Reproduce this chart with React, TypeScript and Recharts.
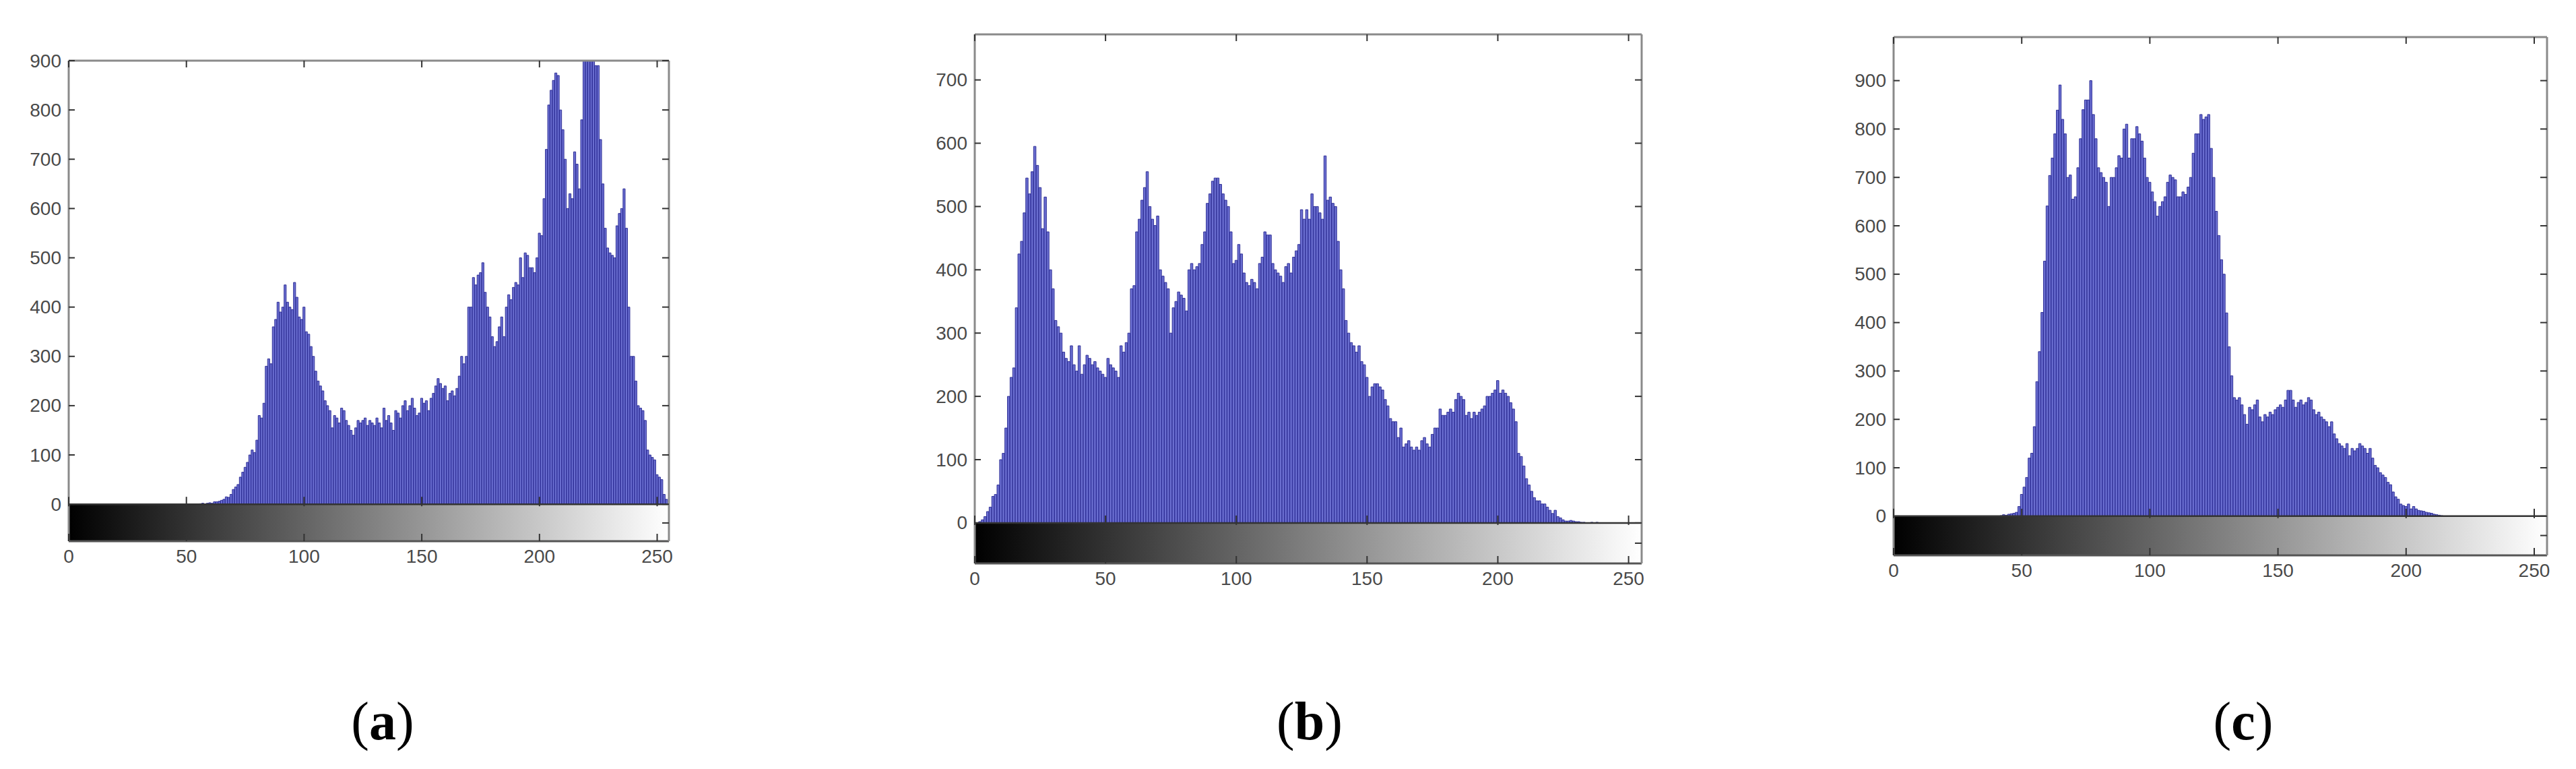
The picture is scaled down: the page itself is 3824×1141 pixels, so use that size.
import React from 'react';
import { BarChart, Bar, XAxis, YAxis, ReferenceLine, ReferenceArea } from 'recharts';

// ---------- data ----------
const grayLevels: number[] = Array.from({ length: 256 }, (_, i) => i);

const histA: number[] = [
  0, 0, 0, 0, 0, 0, 0, 0,
  0, 0, 0, 0, 0, 0, 0, 0,
  0, 0, 0, 0, 0, 0, 0, 0,
  0, 0, 0, 0, 0, 0, 0, 0,
  0, 0, 0, 0, 0, 0, 0, 0,
  0, 0, 0, 0, 0, 0, 0, 0,
  0, 0, 0, 0, 0, 0, 0, 0,
  1, 2, 0, 2, 3, 2, 5, 5,
  6, 8, 10, 15, 14, 20, 30, 35,
  40, 55, 65, 75, 85, 100, 110, 105,
  130, 180, 175, 205, 280, 295, 285, 360,
  375, 410, 390, 400, 445, 410, 400, 395,
  450, 420, 380, 375, 400, 350, 345, 320,
  300, 270, 250, 240, 230, 210, 200, 190,
  155, 180, 175, 165, 195, 190, 170, 160,
  150, 140, 155, 170, 165, 170, 175, 160,
  170, 165, 160, 175, 165, 155, 195, 170,
  180, 165, 150, 190, 185, 175, 200, 210,
  190, 200, 215, 195, 180, 185, 215, 205,
  210, 190, 215, 225, 240, 255, 245, 235,
  240, 210, 225, 230, 220, 235, 260, 300,
  285, 300, 400, 400, 460, 445, 465, 470,
  490, 430, 400, 380, 340, 320, 330, 360,
  380, 340, 400, 425, 415, 440, 450, 445,
  500, 460, 510, 505, 480, 480, 470, 500,
  550, 545, 620, 720, 810, 840, 860, 875,
  870, 800, 760, 700, 600, 630, 620, 715,
  690, 640, 780, 900, 900, 900, 900, 900,
  890, 890, 740, 650, 560, 520, 510, 505,
  500, 565, 590, 600, 640, 560, 400, 300,
  300, 250, 200, 195, 190, 170, 110, 100,
  95, 90, 60, 55, 50, 20, 10, 0,
];

const histB: number[] = [
  0, 0, 2, 5, 10, 18, 25, 42,
  45, 60, 100, 110, 150, 200, 230, 245,
  340, 425, 445, 490, 545, 520, 555, 595,
  565, 530, 465, 515, 460, 400, 370, 320,
  310, 300, 270, 260, 255, 280, 250, 240,
  280, 235, 250, 265, 260, 250, 255, 245,
  240, 235, 230, 260, 250, 245, 240, 230,
  280, 270, 285, 300, 370, 375, 460, 480,
  510, 530, 555, 500, 480, 470, 485, 400,
  390, 380, 370, 300, 340, 350, 365, 360,
  355, 335, 400, 410, 400, 405, 410, 440,
  460, 505, 520, 540, 545, 545, 535, 520,
  510, 500, 460, 410, 415, 440, 425, 395,
  380, 375, 385, 380, 370, 410, 420, 460,
  455, 455, 410, 400, 395, 390, 380, 405,
  410, 395, 420, 430, 440, 495, 480, 495,
  480, 520, 500, 500, 490, 480, 580, 510,
  515, 505, 500, 445, 400, 370, 320, 300,
  285, 280, 270, 280, 255, 250, 230, 200,
  215, 220, 220, 215, 210, 195, 185, 165,
  160, 160, 135, 150, 120, 125, 130, 120,
  115, 120, 115, 130, 135, 125, 120, 140,
  150, 150, 180, 170, 170, 175, 180, 175,
  195, 205, 200, 195, 170, 175, 165, 175,
  170, 175, 180, 185, 200, 200, 205, 210,
  225, 205, 210, 205, 200, 190, 180, 160,
  110, 105, 90, 70, 60, 50, 40, 35,
  35, 30, 30, 25, 20, 15, 20, 10,
  8, 5, 3, 3, 4, 3, 2, 2,
  1, 1, 0, 0, 1, 0, 1, 0,
  0, 0, 0, 0, 0, 0, 0, 0,
  0, 0, 0, 0, 0, 0, 0, 0,
];

const histC: number[] = [
  0, 0, 0, 0, 0, 0, 0, 0,
  0, 0, 0, 0, 0, 0, 0, 0,
  0, 0, 0, 0, 0, 0, 0, 0,
  0, 0, 0, 0, 0, 0, 0, 0,
  0, 0, 0, 0, 0, 0, 0, 0,
  0, 0, 1, 3, 2, 4, 5, 6,
  8, 20, 45, 60, 80, 120, 130, 185,
  278, 340, 421, 527, 641, 704, 740, 790,
  839, 891, 820, 790, 700, 705, 655, 660,
  720, 780, 840, 860, 860, 900, 830, 780,
  720, 710, 700, 690, 640, 700, 700, 720,
  745, 740, 800, 810, 740, 780, 780, 805,
  790, 775, 740, 700, 690, 670, 650, 620,
  640, 650, 660, 690, 705, 700, 695, 660,
  660, 670, 665, 680, 700, 750, 790, 790,
  830, 820, 825, 830, 760, 700, 630, 580,
  530, 500, 420, 350, 290, 245, 240, 245,
  230, 210, 190, 225, 220, 230, 240, 205,
  195, 210, 205, 215, 210, 220, 225, 230,
  225, 240, 260, 260, 240, 225, 235, 240,
  230, 235, 245, 240, 220, 210, 215, 205,
  200, 195, 185, 195, 170, 160, 150, 145,
  140, 150, 125, 140, 135, 140, 150, 145,
  140, 130, 140, 120, 105, 100, 90, 85,
  80, 70, 65, 50, 40, 35, 25, 22,
  20, 25, 15, 20, 15, 12, 11, 10,
  8, 7, 6, 4, 3, 2, 1, 0,
  0, 0, 0, 0, 0, 0, 0, 0,
  0, 0, 0, 0, 0, 0, 0, 0,
  0, 0, 0, 0, 0, 0, 0, 0,
  0, 0, 0, 0, 0, 0, 0, 0,
  0, 0, 0, 0, 0, 0, 0, 0,
];

const xTickValues: number[] = [0, 50, 100, 150, 200, 250];
const topTickValues: number[] = [0, 50, 100, 150, 200, 250];
const yTicksA: number[] = [0, 100, 200, 300, 400, 500, 600, 700, 800, 900];
const yTicksB: number[] = [0, 100, 200, 300, 400, 500, 600, 700];
const yTicksC: number[] = [0, 100, 200, 300, 400, 500, 600, 700, 800, 900];
const rightTicksA: number[] = [-38, 0, 100, 200, 300, 400, 500, 600, 700, 800, 900];
const rightTicksB: number[] = [-32, 0, 100, 200, 300, 400, 500, 600, 700];
const rightTicksC: number[] = [-40, 0, 100, 200, 300, 400, 500, 600, 700, 800, 900];
const captionLetters: string[] = ['a', 'b', 'c'];

// ---------- layout / style ----------
const FONT = "'Liberation Sans Narrow', 'Liberation Sans', Arial, sans-serif";
const LABEL_COLOR = '#4a4a4a';
const TICK_COLOR = '#333';
const BOX = { stroke: '#8a8a8a', strokeWidth: 3 };
const BAR_FILL = '#6a6ed0';
const BAR_STROKE = '#24248e';

type PanelProps = {
  id: string;
  hist: number[];
  yTicks: number[];
  rightTicks: number[];
  yMin: number;
  yMax: number;
  x0: number;
  x1: number;
  yTop: number;
  yBot: number;
};

const PL = 100;
const PT = 30;
const PR = 30;
const PB = 60;

function Panel({ id, hist, yTicks, rightTicks, yMin, yMax, x0, x1, yTop, yBot }: PanelProps) {
  const plotW = x1 - x0;
  const plotH = yBot - yTop;
  const width = PL + plotW + PR;
  const height = PT + plotH + PB;
  const data = grayLevels.map((g, i) => ({ g, v: hist[i] }));
  const barW = plotW / 255;
  const zeroOff = (plotH * (0 - yMin)) / (yMax - yMin);

  const LeftTick = (p: any) => (
    <g>
      <line x1={p.x + 11} x2={p.x + 20} y1={p.y} y2={p.y} stroke={TICK_COLOR} strokeWidth={2} />
      <text
        x={p.x}
        y={p.y}
        textAnchor="end"
        dominantBaseline="central"
        fontSize={28}
        fontFamily={FONT}
        fill={LABEL_COLOR}
      >
        {p.payload.value}
      </text>
    </g>
  );
  const RightTick = (p: any) => (
    <line x1={p.x - 10} x2={p.x} y1={p.y} y2={p.y} stroke={TICK_COLOR} strokeWidth={2} />
  );
  const TopTick = (p: any) => (
    <line x1={p.x} x2={p.x} y1={p.y} y2={p.y + 10} stroke={TICK_COLOR} strokeWidth={2} />
  );
  const BottomTick = (p: any) => (
    <g>
      <line x1={p.x} x2={p.x} y1={p.y - 11} y2={p.y} stroke={TICK_COLOR} strokeWidth={2} />
      <line
        x1={p.x}
        x2={p.x}
        y1={p.y - zeroOff - 11}
        y2={p.y - zeroOff + 3}
        stroke={TICK_COLOR}
        strokeWidth={2}
      />
      <text
        x={p.x}
        y={p.y + 22}
        textAnchor="middle"
        dominantBaseline="central"
        fontSize={28}
        fontFamily={FONT}
        fill={LABEL_COLOR}
      >
        {p.payload.value}
      </text>
    </g>
  );

  return (
    <div style={{ position: 'absolute', left: x0 - PL, top: yTop - PT }}>
      <BarChart
        width={width}
        height={height}
        data={data}
        margin={{ top: PT - 1, right: PR - 1, bottom: 0, left: 0 }}
      >
        <defs>
          <linearGradient id={`cb-${id}`} x1="0" y1="0" x2="1" y2="0">
            <stop offset="0%" stopColor="#000000" />
            <stop offset="100%" stopColor="#ffffff" />
          </linearGradient>
        </defs>
        <XAxis
          xAxisId="b"
          dataKey="g"
          type="number"
          domain={[0, 255]}
          ticks={xTickValues}
          interval={0}
          height={PB}
          tickSize={0}
          tickMargin={0}
          tickLine={false}
          axisLine={{ stroke: '#555', strokeWidth: 3 }}
          tick={BottomTick}
        />
        <XAxis
          xAxisId="t"
          dataKey="g"
          orientation="top"
          type="number"
          domain={[0, 255]}
          ticks={topTickValues}
          interval={0}
          height={1}
          tickSize={0}
          tickMargin={0}
          tickLine={false}
          axisLine={BOX}
          tick={TopTick}
        />
        <YAxis
          yAxisId="l"
          type="number"
          domain={[yMin, yMax]}
          allowDataOverflow
          ticks={yTicks}
          interval={0}
          width={PL}
          tickSize={0}
          tickMargin={11}
          tickLine={false}
          axisLine={BOX}
          tick={LeftTick}
        />
        <YAxis
          yAxisId="r"
          orientation="right"
          type="number"
          domain={[yMin, yMax]}
          allowDataOverflow
          ticks={rightTicks}
          interval={0}
          width={1}
          tickSize={0}
          tickMargin={0}
          tickLine={false}
          axisLine={BOX}
          tick={RightTick}
        />
        <ReferenceArea
          xAxisId="b"
          yAxisId="l"
          x1={0}
          x2={255}
          y1={yMin}
          y2={0}
          fill={`url(#cb-${id})`}
          fillOpacity={1}
          stroke="none"
        />
        <Bar
          xAxisId="b"
          yAxisId="l"
          dataKey="v"
          fill={BAR_FILL}
          stroke={BAR_STROKE}
          strokeWidth={0.9}
          barSize={barW}
          isAnimationActive={false}
        />
        <Bar
          xAxisId="t"
          yAxisId="r"
          dataKey="none"
          isAnimationActive={false}
        />
        <ReferenceLine xAxisId="b" yAxisId="l" y={0} stroke="#333" strokeWidth={2.5} />
      </BarChart>
    </div>
  );
}

const panels: (PanelProps & { capX: number })[] = [
  { id: 'a', hist: histA, yTicks: yTicksA, rightTicks: rightTicksA, yMin: -75, yMax: 900, x0: 102, x1: 993, yTop: 90, yBot: 803, capX: 568 },
  { id: 'b', hist: histB, yTicks: yTicksB, rightTicks: rightTicksB, yMin: -64, yMax: 772, x0: 1447, x1: 2437, yTop: 51, yBot: 836, capX: 1944 },
  { id: 'c', hist: histC, yTicks: yTicksC, rightTicks: rightTicksC, yMin: -81, yMax: 990, x0: 2811, x1: 3781, yTop: 55, yBot: 824, capX: 3330 },
];

export default function App() {
  return (
    <div
      style={{
        position: 'absolute',
        left: 0,
        top: 0,
        width: 3824,
        height: 1141,
        background: '#ffffff',
        overflow: 'hidden',
      }}
    >
      {panels.map((p, i) => (
        <React.Fragment key={p.id}>
          <Panel {...p} />
          <div
            style={{
              position: 'absolute',
              left: p.capX - 150,
              top: 1025,
              width: 300,
              textAlign: 'center',
              fontFamily: "'Liberation Serif', 'Times New Roman', serif",
              fontSize: 80,
              lineHeight: '90px',
              color: '#000',
            }}
          >
            (<b>{captionLetters[i]}</b>)
          </div>
        </React.Fragment>
      ))}
    </div>
  );
}
